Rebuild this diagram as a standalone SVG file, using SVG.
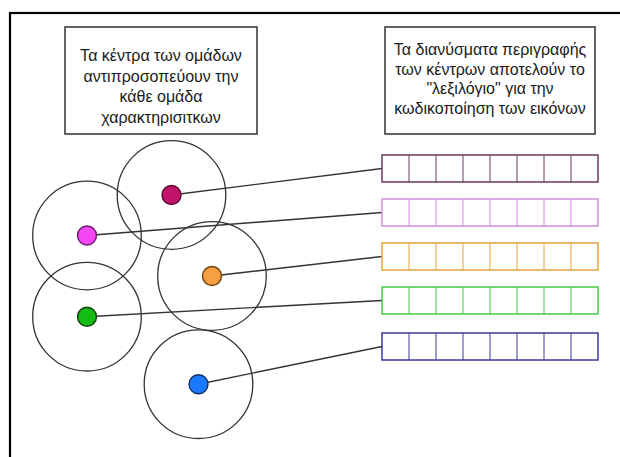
<svg xmlns="http://www.w3.org/2000/svg" width="620" height="457" viewBox="0 0 620 457">
<style>
.frame{fill:none;stroke:#000;stroke-width:2.2}
.box{fill:#fff;stroke:#333;stroke-width:1.5}
.t{font-family:"Liberation Sans",Arial,sans-serif;font-size:16px;fill:#1a1a1a;text-anchor:middle}
.ring{fill:none;stroke:#333;stroke-width:1.3}
.dot{stroke-width:1.4}
.conn{stroke:#333;stroke-width:1.4;fill:none}
.vec{fill:#fff;stroke-width:1.5}
</style>
<defs>
<g id="cells">
<rect class="vec" x="0" y="0" width="216" height="27"/>
<path d="M27,0V27M54,0V27M81,0V27M108,0V27M135,0V27M162,0V27M189,0V27" fill="none"/>
</g>
</defs>
<rect width="620" height="457" fill="#fff"/>
<rect class="frame" x="10" y="13" width="700" height="500"/>

<g id="label-left">
<rect class="box" x="65" y="27" width="192" height="107"/>
<text class="t" x="161" y="61">Τα κέντρα των ομάδων</text>
<text class="t" x="161" y="81.5">αντιπροσοπεύουν την</text>
<text class="t" x="161" y="102">κάθε ομάδα</text>
<text class="t" x="161" y="122.5">χαρακτηρισιτκων</text>
</g>
<g id="label-right">
<rect class="box" x="385" y="27" width="210" height="107"/>
<text class="t" x="490" y="55">Τα διανύσματα περιγραφής</text>
<text class="t" x="490" y="74.5">των κέντρων αποτελούν το</text>
<text class="t" x="490" y="94">"λεξιλόγιο" για την</text>
<text class="t" x="490" y="113.5">κωδικοποίηση των εικόνων</text>
</g>

<g id="ring-1"><circle class="ring" cx="171.5" cy="195" r="54.3"/></g>
<g id="ring-2"><circle class="ring" cx="87" cy="235.5" r="54.3"/></g>
<g id="ring-3"><circle class="ring" cx="212" cy="276" r="54.3"/></g>
<g id="ring-4"><circle class="ring" cx="87" cy="316.7" r="54.3"/></g>
<g id="ring-5"><circle class="ring" cx="198.5" cy="384.2" r="54.3"/></g>

<g id="connectors">
<line class="conn" x1="171.5" y1="195" x2="382" y2="168.5"/>
<line class="conn" x1="87" y1="235.5" x2="382" y2="212.5"/>
<line class="conn" x1="212" y1="276" x2="382" y2="256.5"/>
<line class="conn" x1="87" y1="316.7" x2="382" y2="300.5"/>
<line class="conn" x1="198.5" y1="384.2" x2="382" y2="346.5"/>
</g>

<g id="center-1"><circle class="dot" cx="171.5" cy="195" r="9.5" fill="#c0146a" stroke="#5a0a30"/></g>
<g id="center-2"><circle class="dot" cx="87" cy="235.5" r="9.5" fill="#f547f5" stroke="#6a1a6a"/></g>
<g id="center-3"><circle class="dot" cx="212" cy="276" r="9.5" fill="#f7a043" stroke="#6a4010"/></g>
<g id="center-4"><circle class="dot" cx="87" cy="316.7" r="9.5" fill="#14bb14" stroke="#104010"/></g>
<g id="center-5"><circle class="dot" cx="198.5" cy="384.2" r="9.5" fill="#1a7aff" stroke="#10306a"/></g>

<g id="vector-1" stroke="#6e3a5e"><use href="#cells" x="382" y="155"/></g>
<g id="vector-2" stroke="#d48ae0"><use href="#cells" x="382" y="199"/></g>
<g id="vector-3" stroke="#e2a43c"><use href="#cells" x="382" y="243"/></g>
<g id="vector-4" stroke="#44c844"><use href="#cells" x="382" y="287"/></g>
<g id="vector-5" stroke="#3a3a99"><use href="#cells" x="382" y="333"/></g>
</svg>
